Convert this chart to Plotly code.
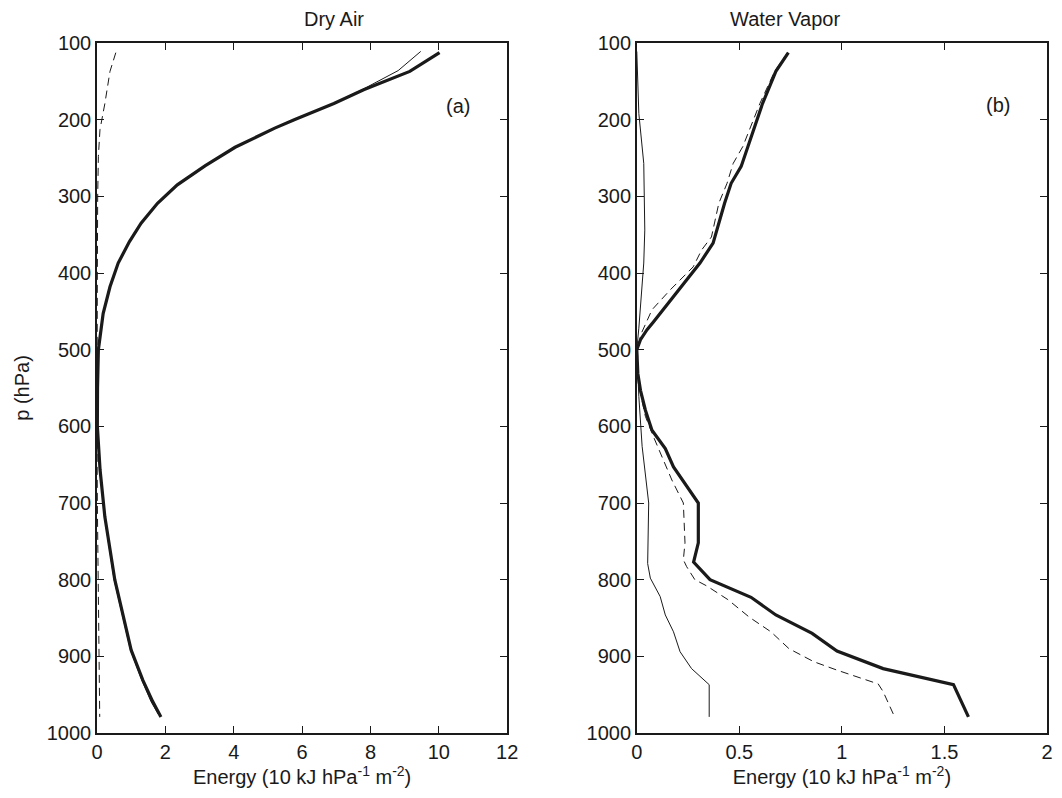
import plotly.graph_objects as go

# ---------------- Data ----------------
# Panel (a) Dry Air
dry_thick_p = [112.6, 137, 161, 179, 200, 211, 236, 260, 285, 309, 335, 359, 387, 418,
               453, 483, 500, 550, 600, 657, 718, 800, 848, 892, 931, 959, 979]
dry_thick_x = [10.02, 9.15, 7.8, 6.93, 5.77, 5.2, 4.04, 3.17, 2.35, 1.77, 1.29, 0.95, 0.62, 0.38,
               0.18, 0.09, 0.04, 0.015, 0.01, 0.09, 0.23, 0.52, 0.76, 1.0, 1.34, 1.63, 1.87]

dry_thin_p = [111, 136, 161, 179, 200, 211, 236, 260, 285, 309, 335, 359, 387, 418,
              453, 483, 500, 550, 600, 657, 718, 800, 848, 892, 931, 959, 976]
dry_thin_x = [9.47, 8.81, 7.75, 6.9, 5.75, 5.18, 4.03, 3.16, 2.34, 1.76, 1.28, 0.94, 0.61, 0.37,
              0.17, 0.08, 0.035, 0.012, 0.008, 0.085, 0.22, 0.5, 0.74, 0.98, 1.31, 1.58, 1.8]

dry_dash_p = [112.6, 137, 179, 213, 248, 300, 400, 500, 600, 700, 800, 866, 927, 979]
dry_dash_x = [0.55, 0.38, 0.23, 0.087, 0.04, 0.02, 0.01, 0.0, 0.0, 0.01, 0.03, 0.04, 0.07, 0.08]

# Panel (b) Water Vapor
wv_thick_p = [112.6, 137, 179, 222, 261, 283, 309, 361, 387, 463.5, 474, 487, 500, 531, 553,
              579, 605, 629, 653, 700, 752, 777, 800, 823, 846, 870, 893, 916, 937, 979]
wv_thick_x = [0.739, 0.678, 0.613, 0.557, 0.509, 0.46, 0.428, 0.372, 0.308, 0.082, 0.05, 0.018,
              0.0, 0.005, 0.018, 0.042, 0.074, 0.139, 0.179, 0.30, 0.30, 0.277, 0.357, 0.557,
              0.678, 0.855, 0.976, 1.201, 1.544, 1.617]

wv_dash_p = [112.6, 137, 179, 235, 257, 283, 309, 353, 370, 392, 422, 448, 480, 500, 545, 587,
             614, 640, 670, 700, 752, 774, 783, 800, 808, 826, 849, 868, 890, 907, 918, 936,
             946, 979]
wv_dash_x = [0.735, 0.672, 0.6, 0.517, 0.47, 0.44, 0.40, 0.364, 0.316, 0.275, 0.163, 0.074,
             0.02, 0.003, 0.008, 0.042, 0.082, 0.122, 0.171, 0.227, 0.235, 0.227, 0.243, 0.283,
             0.34, 0.444, 0.549, 0.654, 0.742, 0.863, 0.976, 1.177, 1.201, 1.257]

wv_thin_p = [111, 192, 257, 344, 387, 453, 472, 500, 561, 626, 700, 779, 798, 822, 846, 868,
             894, 916, 937, 979]
wv_thin_x = [0.0, 0.01, 0.034, 0.039, 0.034, 0.018, 0.01, 0.0, 0.01, 0.026, 0.058, 0.053,
             0.066, 0.114, 0.139, 0.179, 0.211, 0.267, 0.353, 0.353]

p_ticks = [100, 200, 300, 400, 500, 600, 700, 800, 900, 1000]
dry_xticks = [0, 2, 4, 6, 8, 10, 12]
wv_xticks = [0, 0.5, 1, 1.5, 2]
wv_xticklabels = ["0", "0.5", "1", "1.5", "2"]

panel_titles = ["Dry Air", "Water Vapor"]
panel_tags = ["(a)", "(b)"]
x_title = "Energy (10 kJ hPa<sup>-1</sup> m<sup>-2</sup>)"
y_title = "p (hPa)"

# ---------------- Figure ----------------
INK = "#1a1a1a"
FONT = "Liberation Sans, Arial, Helvetica, sans-serif"
FS = 20
fig = go.Figure()

def add_line(x, p, xa, ya, width, dash="solid"):
    fig.add_trace(go.Scatter(x=x, y=p, xaxis=xa, yaxis=ya, mode="lines",
                             line=dict(color=INK, width=width, dash=dash),
                             showlegend=False, hoverinfo="skip"))

add_line(dry_dash_x, dry_dash_p, "x", "y", 1.0, "8px,5px")
add_line(dry_thin_x, dry_thin_p, "x", "y", 1.0)
add_line(dry_thick_x, dry_thick_p, "x", "y", 3.2)

add_line(wv_thin_x, wv_thin_p, "x2", "y2", 1.0)
add_line(wv_dash_x, wv_dash_p, "x2", "y2", 1.0, "8px,5px")
add_line(wv_thick_x, wv_thick_p, "x2", "y2", 3.2)

axis_common = dict(showline=True, linecolor=INK, linewidth=1.5, mirror="allticks",
                   ticks="inside", ticklen=7, tickwidth=1, tickcolor=INK,
                   showgrid=False, zeroline=False,
                   tickfont=dict(family=FONT, size=FS, color=INK))

dom_a = [0, 0.4318]
dom_b = [0.5682, 1]

fig.update_layout(
    width=1062, height=798,
    paper_bgcolor="white", plot_bgcolor="white",
    margin=dict(l=89, r=12, t=35, b=73),
    font=dict(family=FONT, size=FS, color=INK),
    xaxis=dict(domain=dom_a, range=[0, 12], tickvals=dry_xticks,
               title=dict(text=x_title, font=dict(size=FS), standoff=4),
               anchor="y", **axis_common),
    yaxis=dict(domain=[0, 1], range=[1000, 100], tickvals=p_ticks,
               title=dict(text=y_title, font=dict(size=FS), standoff=12),
               anchor="x", **axis_common),
    xaxis2=dict(domain=dom_b, range=[0, 2], tickvals=wv_xticks, ticktext=wv_xticklabels,
                title=dict(text=x_title, font=dict(size=FS), standoff=4),
                anchor="y2", **axis_common),
    yaxis2=dict(domain=[0, 1], range=[1000, 100], tickvals=p_ticks,
                anchor="x2", **axis_common),
)

# Panel titles
for t, dom in zip(panel_titles, [dom_a, dom_b]):
    fig.add_annotation(text=t, xref="paper", yref="paper", x=(dom[0] + dom[1]) / 2, y=1,
                       yanchor="middle", yshift=24, showarrow=False,
                       font=dict(family=FONT, size=FS, color=INK))

# Panel tags
fig.add_annotation(text=panel_tags[0], xref="x", yref="y", x=10.55, y=182, showarrow=False,
                   font=dict(family=FONT, size=FS, color=INK))
fig.add_annotation(text=panel_tags[1], xref="x2", yref="y2", x=1.76, y=181, showarrow=False,
                   font=dict(family=FONT, size=FS, color=INK))

fig.write_html("out.html")
